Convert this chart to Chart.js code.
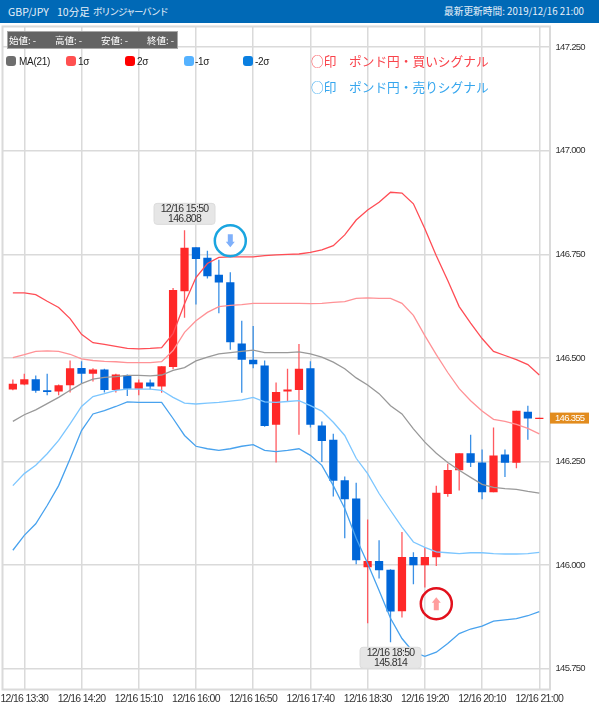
<!DOCTYPE html>
<html lang="ja">
<head>
<meta charset="utf-8">
<title>GBP/JPY 10分足</title>
<script src="https://cdn.jsdelivr.net/npm/chart.js@4"></script>
<style>
    html, body { margin: 0; padding: 0; background: #fff; }
    body { position: relative; width: 599px; height: 703px; overflow: hidden;
           font-family: "Noto Sans CJK JP", "Liberation Sans", sans-serif; }
    #grafico { position: absolute; left: 0; top: 0; }
    .cabecera { position: absolute; left: 0; top: 0; width: 599px; height: 23px; background: #0069b6;
                color: #e8f0f8; font-size: 10.5px; line-height: 23px; }
    .cabecera span { position: absolute; top: 0; white-space: nowrap; }
    .ohlc { position: absolute; left: 7px; top: 31px; width: 169px; height: 16px; background: #636363;
            border: 1px solid #a8a8a8; color: #fff; font-size: 9.5px; line-height: 16px; }
    .ohlc span { position: absolute; top: 0; white-space: nowrap; }
    .leyenda { position: absolute; top: 55px; font-family: "Liberation Sans", sans-serif; font-size: 10px;
               letter-spacing: -0.3px; line-height: 13px; color: #222; white-space: nowrap; }
    .leyenda i { position: absolute; top: 1px; width: 10px; height: 10px; border-radius: 3px; }
    .senal { position: absolute; left: 311px; font-size: 12.7px; line-height: 18px; white-space: nowrap; }
</style>
</head>
<body>
<canvas id="grafico" width="599" height="703"></canvas>
<div class="cabecera">
    <span style="left:8px">GBP/JPY</span>
    <span style="left:57px">10分足</span>
    <span style="left:93px;font-size:9.5px;letter-spacing:-1.2px">ボリンジャーバンド</span>
    <span style="right:15px;font-size:9.7px">最新更新時間: 2019/12/16 21:00</span>
</div>
<div class="ohlc" id="ohlc"></div>
<div id="leyendas"></div>
<div class="senal" style="top:52px;color:#f9434b">○印　ポンド円・買いシグナル</div>
<div class="senal" style="top:78px;color:#35a6ee">○印　ポンド円・売りシグナル</div>

<script>
// ---- datos ----
const horas = ["13:20","13:30","13:40","13:50","14:00","14:10","14:20","14:30","14:40","14:50",
    "15:00","15:10","15:20","15:30","15:40","15:50","16:00","16:10","16:20","16:30",
    "16:40","16:50","17:00","17:10","17:20","17:30","17:40","17:50","18:00","18:10",
    "18:20","18:30","18:40","18:50","19:00","19:10","19:20","19:30","19:40","19:50",
    "20:00","20:10","20:20","20:30","20:40","20:50","21:00"];

const aperturas = [146.424,146.436,146.449,146.422,146.419,146.434,146.476,146.462,146.472,146.423,
    146.458,146.426,146.441,146.431,146.478,146.661,146.767,146.742,146.701,146.683,
    146.535,146.496,146.482,146.339,146.419,146.423,146.475,146.337,146.303,146.205,
    146.161,145.995,146.010,145.989,145.889,146.020,146.000,146.019,146.172,146.229,
    146.270,146.248,146.176,146.267,146.247,146.370,146.353];
const cierres = [146.438,146.449,146.421,146.418,146.434,146.475,146.462,146.472,146.423,146.460,
    146.426,146.441,146.431,146.480,146.664,146.766,146.739,146.697,146.682,146.538,
    146.496,146.485,146.336,146.418,146.424,146.474,146.339,146.300,146.204,146.159,
    146.012,146.010,145.988,145.888,146.020,146.000,146.020,146.175,146.230,146.270,
    146.247,146.176,146.265,146.247,146.373,146.354,146.356];
const maximos = [146.448,146.462,146.458,146.462,146.436,146.494,146.492,146.475,146.474,146.462,
    146.460,146.448,146.448,146.480,146.669,146.808,146.767,146.759,146.737,146.707,
    146.590,146.577,146.494,146.441,146.474,146.534,146.492,146.347,146.317,146.214,
    146.199,146.110,146.060,145.990,146.080,146.031,146.044,146.192,146.245,146.270,
    146.315,146.279,146.332,146.279,146.373,146.385,146.356];
const minimos = [146.422,146.434,146.416,146.410,146.410,146.417,146.439,146.443,146.417,146.417,
    146.408,146.410,146.424,146.416,146.473,146.597,146.629,146.692,146.608,146.520,
    146.416,146.475,146.334,146.248,146.394,146.315,146.332,146.249,146.166,146.065,
    146.002,145.860,145.968,145.814,145.874,145.954,145.946,145.998,146.165,146.180,
    146.237,146.159,146.176,146.213,146.234,146.303,146.353];

const ma21 = [146.347,146.363,146.375,146.390,146.405,146.422,146.438,146.449,146.453,146.455,
    146.458,146.458,146.457,146.459,146.470,146.477,146.493,146.502,146.510,146.513,
    146.516,146.519,146.513,146.513,146.513,146.515,146.510,146.502,146.490,146.474,
    146.452,146.435,146.414,146.385,146.365,146.329,146.297,146.270,146.248,146.229,
    146.212,146.195,146.188,146.185,146.183,146.178,146.174];
const sigma1 = [146.501,146.508,146.516,146.517,146.516,146.509,146.498,146.494,146.492,146.491,
    146.489,146.489,146.489,146.491,146.518,146.562,146.590,146.610,146.624,146.627,
    146.629,146.632,146.632,146.632,146.632,146.632,146.631,146.632,146.634,146.636,
    146.644,146.645,146.644,146.644,146.632,146.603,146.554,146.508,146.465,146.426,
    146.397,146.372,146.352,146.347,146.340,146.330,146.317];
const sigma2 = [146.657,146.657,146.653,146.637,146.622,146.595,146.557,146.537,146.533,146.528,
    146.523,146.522,146.523,146.525,146.559,146.631,146.694,146.728,146.743,146.744,
    146.744,146.744,146.747,146.749,146.750,146.751,146.755,146.761,146.771,146.797,
    146.833,146.857,146.876,146.900,146.898,146.872,146.812,146.747,146.687,146.624,
    146.584,146.547,146.516,146.506,146.496,146.484,146.459];
const sigmaM1 = [146.192,146.221,146.241,146.269,146.301,146.341,146.383,146.407,146.414,146.422,
    146.425,146.425,146.425,146.422,146.405,146.391,146.389,146.391,146.393,146.396,
    146.399,146.405,146.394,146.393,146.395,146.397,146.385,146.372,146.345,146.313,
    146.258,146.221,146.173,146.132,146.092,146.056,146.043,146.032,146.030,146.028,
    146.030,146.030,146.028,146.027,146.027,146.028,146.031];
const sigmaM2 = [146.036,146.072,146.100,146.144,146.192,146.257,146.325,146.365,146.373,146.383,
    146.394,146.393,146.393,146.393,146.354,146.313,146.287,146.281,146.277,146.281,
    146.287,146.291,146.277,146.274,146.277,146.281,146.265,146.241,146.192,146.137,
    146.065,146.004,145.939,145.872,145.823,145.790,145.780,145.790,145.811,145.835,
    145.846,145.853,145.865,145.868,145.871,145.878,145.888];

const ticksPrecio = [145.75, 146, 146.25, 146.5, 146.75, 147, 147.25];
const ticksHora = [1, 6, 11, 16, 21, 26, 31, 36, 41, 46];
const fecha = "12/16";
const precioActual = 146.355;

// índice de vela, precio y sentido de cada señal
const senales = [
    { i: 19, precio: 146.783, color: "#1aa5e0", flecha: "#7fb0fb", sube: false },
    { i: 37, precio: 145.907, color: "#e2101c", flecha: "#ff9d9d", sube: true },
];
const globos = [
    { i: 15, precio: 146.808, arriba: true },
    { i: 33, precio: 145.814, arriba: false },
];

const ROJO = "#ff2828", AZUL = "#0066d8";
const FUENTE = '"Liberation Sans", sans-serif';

// ---- cabecera y leyenda en HTML ----
document.getElementById("ohlc").innerHTML = ["始値: -", "高値: -", "安値: -", "終値: -"]
    .map((t, n) => `<span style="left:${1 + n * 46}px">${t}</span>`).join("");

const leyendaTextos = ["MA(21)", "1σ", "2σ", "-1σ", "-2σ"];
const leyendaColores = ["#6e6e6e", "#ff5050", "#ff0000", "#55b2ff", "#0a7fe0"];
const leyendaX = [19, 78, 137, 195, 255];
const leyendaMarca = [6, 66, 125, 184, 243];
document.getElementById("leyendas").innerHTML = leyendaTextos
    .map((t, n) => `<div class="leyenda" style="left:${leyendaX[n]}px"><i style="left:${leyendaMarca[n] - leyendaX[n]}px;background:${leyendaColores[n]}"></i>${t}</div>`)
    .join("");

// ---- velas como barras flotantes ----
const puntos = (arr) => arr.map((v, i) => ({ x: i, y: v }));
const rango = (a, b) => a.map((v, i) => ({ x: i, y: [v, b[i]] }));
const colorVela = aperturas.map((o, i) => (cierres[i] >= o ? ROJO : AZUL));
const colorMecha = aperturas.map((o, i) => (cierres[i] >= o ? "#ff5a60" : "#3a90e6"));

function linea(label, data, color) {
    return { type: "line", label, data: puntos(data), borderColor: color, borderWidth: 1.3,
             pointRadius: 0, tension: 0, order: 0 };
}

// frame, globos, señales y etiqueta de precio
const adornos = {
    id: "adornos",
    beforeDraw(chart) {
        // las etiquetas del original son más estrechas que cualquier fuente instalada
        chart.ctx.letterSpacing = "-0.7px";
    },
    afterDatasetsDraw(chart) {
        const { ctx, chartArea: a, scales: { x, y } } = chart;
        ctx.save();

        ctx.strokeStyle = "#dadada";
        ctx.lineWidth = 2;
        ctx.strokeRect(a.left, a.top, a.right - a.left, a.bottom - a.top);

        senales.forEach((s) => {
            const cx = x.getPixelForValue(s.i), cy = y.getPixelForValue(s.precio);
            ctx.beginPath();
            ctx.arc(cx, cy, 15.5, 0, Math.PI * 2);
            ctx.strokeStyle = s.color;
            ctx.lineWidth = 2.5;
            ctx.stroke();
            const d = s.sube ? 1 : -1;
            ctx.beginPath();
            ctx.moveTo(cx, cy - 6.5 * d);
            ctx.lineTo(cx + 4.5, cy - 1 * d);
            ctx.lineTo(cx + 2.5, cy - 1 * d);
            ctx.lineTo(cx + 2.5, cy + 6.5 * d);
            ctx.lineTo(cx - 2.5, cy + 6.5 * d);
            ctx.lineTo(cx - 2.5, cy - 1 * d);
            ctx.lineTo(cx - 4.5, cy - 1 * d);
            ctx.closePath();
            ctx.fillStyle = s.flecha;
            ctx.fill();
        });

        globos.forEach((g) => {
            const cx = x.getPixelForValue(g.i), py = y.getPixelForValue(g.precio);
            const w = 61, h = 21;
            const top = g.arriba ? py - 6 - h : py + 5;
            ctx.beginPath();
            ctx.roundRect(cx - w / 2, top, w, h, 3);
            ctx.fillStyle = "#e6e6e6";
            ctx.fill();
            ctx.strokeStyle = "#dcdcdc";
            ctx.lineWidth = 1;
            ctx.stroke();
            ctx.fillStyle = "#333";
            ctx.font = "10.5px " + FUENTE;
            ctx.textAlign = "center";
            ctx.textBaseline = "middle";
            ctx.fillText(`${fecha} ${horas[g.i]}`, cx, top + 5.5);
            ctx.fillText(g.precio.toFixed(3), cx, top + 15.5);
        });

        const py = y.getPixelForValue(precioActual);
        ctx.fillStyle = "#e28c1e";
        ctx.fillRect(a.right, py - 5.5, 39, 11);
        ctx.fillStyle = "#fff";
        ctx.font = "9.5px " + FUENTE;
        ctx.textAlign = "left";
        ctx.textBaseline = "middle";
        ctx.fillText(precioActual.toFixed(3), a.right + 5, py + 0.5);
        ctx.restore();
    },
};

new Chart(document.getElementById("grafico").getContext("2d"), {
    type: "bar",
    data: {
        datasets: [
            linea("MA(21)", ma21, "#999999"),
            linea("1σ", sigma1, "#ff9296"),
            linea("2σ", sigma2, "#ff4d55"),
            linea("-1σ", sigmaM1, "#7cc6ff"),
            linea("-2σ", sigmaM2, "#48a2ee"),
            { label: "本体", data: rango(aperturas, cierres), backgroundColor: colorVela,
              grouped: false, maxBarThickness: 10.5, order: 1 },
            { label: "ヒゲ", data: rango(minimos, maximos), backgroundColor: colorMecha,
              grouped: false, maxBarThickness: 1.3, order: 2 },
        ],
    },
    options: {
        responsive: false,
        animation: false,
        layout: { padding: { left: 2.5, top: 26.5, right: 0, bottom: 0 } },
        plugins: { legend: { display: false }, tooltip: { enabled: false } },
        scales: {
            x: {
                type: "linear",
                offset: false,
                min: -0.905,
                max: 46.935,
                grid: { offset: false, color: "#dadada", lineWidth: 1.5, drawTicks: false },
                border: { display: false },
                afterBuildTicks(s) { s.ticks = ticksHora.map((v) => ({ value: v })); },
                afterFit(s) { s.height = 13.5; s.paddingLeft = 0; s.paddingRight = 0; },
                ticks: {
                    autoSkip: false,
                    maxRotation: 0,
                    padding: 3,
                    color: "#333",
                    font: { family: FUENTE, size: 10.5 },
                    callback: (v) => `${fecha} ${horas[v]}`,
                },
            },
            y: {
                position: "right",
                min: 145.7,
                max: 147.3,
                grid: { color: "#dadada", lineWidth: 1.5, drawTicks: false },
                border: { display: false },
                afterBuildTicks(s) { s.ticks = ticksPrecio.map((v) => ({ value: v })); },
                afterFit(s) { s.width = 49; },
                ticks: {
                    padding: 5.5,
                    color: "#333",
                    font: { family: FUENTE, size: 9.5 },
                    callback: (v) => v.toFixed(3),
                },
            },
        },
    },
    plugins: [adornos],
});
</script>
</body>
</html>
